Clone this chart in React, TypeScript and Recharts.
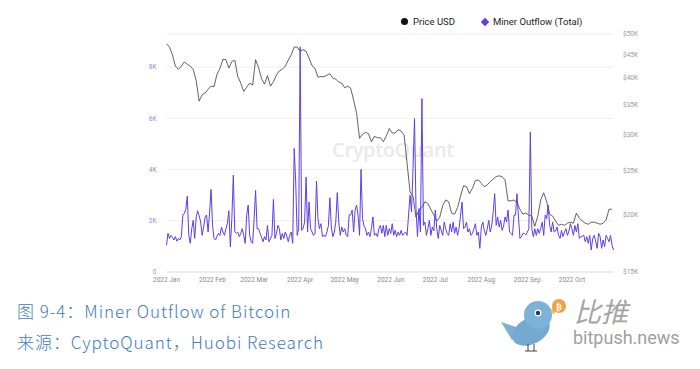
import { LineChart, Line, XAxis, YAxis, CartesianGrid } from "recharts";

// BTC price in $K, one sample every 2 days from 2022-01-01
const priceK = [
  47.6, 46.8, 45.0, 42.5, 41.8, 42.5, 43.4, 42.9, 42.5, 41.8,
  39.5, 35.6, 36.8, 37.1, 37.8, 38.4, 38.3, 40.8, 42.0, 44.0,
  43.9, 42.1, 43.5, 43.8, 40.3, 39.0, 37.4, 38.2, 39.0, 38.6,
  43.9, 42.2, 39.9, 38.8, 40.5, 38.4, 39.3, 40.6, 41.5, 41.8,
  42.5, 43.8, 45.0, 46.8, 46.8, 45.8, 46.2, 45.8, 44.2, 42.6,
  42.0, 40.2, 40.3, 40.3, 40.6, 40.9, 40.0, 39.8, 39.2, 39.0,
  38.1, 38.4, 38.0, 35.8, 33.5, 29.5, 30.1, 30.4, 30.2, 29.0,
  29.8, 29.6, 29.6, 29.0, 29.8, 31.0, 30.3, 30.3, 30.8, 30.6,
  30.0, 26.0, 22.5, 22.0, 19.8, 20.5, 20.8, 21.4, 21.2, 20.6,
  20.0, 19.4, 19.8, 21.0, 21.6, 21.4, 20.2, 20.1, 20.8, 22.0,
  23.2, 23.1, 22.3, 22.9, 23.8, 23.9, 23.5, 23.1, 23.3, 23.7,
  24.0, 24.3, 24.4, 24.3, 23.9, 21.5, 21.5, 21.6, 21.3, 20.6,
  20.1, 20.2, 20.0, 19.9, 18.9, 19.9, 21.6, 22.4, 21.4, 20.1,
  19.9, 19.4, 19.0, 19.1, 19.0, 19.2, 19.3, 19.2, 20.2, 19.7,
  19.4, 19.2, 19.1, 19.3, 19.3, 19.2, 19.1, 19.2, 19.5, 20.6,
  20.6,
];

// miner outflow (BTC), daily from 2022-01-01
const minerOutflow = [
  1050, 1510, 1310, 1430, 1350, 1250, 1380, 1200, 1310, 1250,
  1380, 2220, 2290, 2450, 2960, 1430, 1120, 1690, 2015, 1310,
  2150, 2390, 2200, 1950, 1430, 1755, 2150, 2223, 1560, 2300,
  3224, 1820, 1310, 1250, 1400, 1510, 1430, 1755, 1560, 1430,
  1690, 1900, 2390, 988, 2080, 3783, 1560, 1510, 1560, 1380,
  1500, 1690, 1430, 1118, 2223, 2610, 1430, 1180, 1118, 2080,
  3185, 1690, 1690, 1510, 1350, 1180, 1380, 1250, 1820, 1180,
  1310, 1430, 2834, 1310, 1500, 1820, 1690, 1250, 1510, 1310,
  1560, 1400, 1180, 1430, 1560, 1118, 4823, 3520, 1430, 1690,
  8788, 1625, 1700, 1950, 3706, 1560, 2730, 1690, 1560, 1430,
  1500, 3550, 2080, 1690, 1885, 1380, 1430, 1380, 1560, 1800,
  2900, 1755, 1380, 1560, 1950, 3095, 1950, 1430, 1755, 1560,
  1690, 1430, 1380, 2223, 2223, 2420, 1560, 2420, 2610, 2223,
  1430, 4003, 2080, 1800, 1690, 1430, 1560, 1380, 1690, 2150,
  1430, 1500, 1380, 1690, 1820, 1510, 1820, 1380, 1820, 1430,
  1690, 1500, 1885, 1430, 1625, 1380, 1560, 1430, 1625, 1430,
  1500, 1560, 1430, 2223, 3000, 2350, 4030, 5990, 2480, 1380,
  2480, 1560, 6770, 1820, 1950, 1430, 1690, 2015, 1430, 1755,
  1600, 2420, 1690, 1310, 1820, 1625, 1430, 1950, 1690, 1500,
  1430, 1885, 1560, 1950, 1510, 1755, 1430, 1700, 2223, 2730,
  1690, 1755, 1950, 1560, 1690, 1430, 1500, 1690, 1885, 1430,
  1560, 923, 1755, 1950, 1625, 1430, 1690, 2015, 1560, 1800,
  2350, 3055, 1820, 2150, 1755, 2015, 1625, 1800, 2150, 1950,
  2420, 1560, 1510, 1430, 2223, 2223, 3055, 2150, 1310, 1380,
  1510, 1510, 1450, 1560, 1690, 5470, 1690, 1380, 1690, 1430,
  1690, 1510, 1700, 1950, 1430, 2223, 2080, 2610, 1820, 1560,
  1950, 1560, 1600, 1755, 1430, 1310, 1625, 1380, 1560, 1690,
  1430, 1600, 1885, 1690, 1430, 1820, 1560, 1885, 1310, 1380,
  1400, 1430, 1180, 1380, 1118, 1430, 858, 1310, 1430, 1200,
  923, 1510, 1380, 923, 1250, 988, 1430, 1310, 1180, 1430,
  1053, 858,
];

const monthTicks = [0, 31, 59, 90, 120, 151, 181, 212, 243, 273];
const monthLabels = [
  "2022 Jan", "2022 Feb", "2022 Mar", "2022 Apr", "2022 May",
  "2022 Jun", "2022 Jul", "2022 Aug", "2022 Sep", "2022 Oct",
];
const outflowTicks = [0, 2000, 4000, 6000, 8000];
const priceTicks = [15000, 20000, 25000, 30000, 35000, 40000, 45000, 50000];

const priceData = priceK.map((p, i) => ({ day: i * 2, price: p * 1000 }));
const outflowData = minerOutflow.map((v, i) => ({ day: i, outflow: v }));

function Bird() {
  return (
    <svg width={80} height={64} style={{ position: "absolute", left: 498, top: 293 }}>
      <path d="M3 29 L27 37 L14 47 Z" fill="#7fb0d4" />
      <ellipse cx={33} cy={38} rx={20} ry={13} transform="rotate(-28 33 38)" fill="#74a9d0" />
      <circle cx={40} cy={22} r={14} fill="#7cb2d8" />
      <circle cx={40} cy={20} r={3.4} fill="#fff" />
      <circle cx={40} cy={20} r={2.2} fill="#333" />
      <path d="M53 16 L61 13 L55 22 Z" fill="#f2c232" />
      <circle cx={61} cy={13} r={7} fill="#f0a040" />
      <text x={61} y={16.5} fontSize={9} fontWeight={700} fill="#fff" textAnchor="middle" fontFamily="DejaVu Sans">₿</text>
      <path d="M30 51 L30 58 M36 51 L36 58 M27 58 L33 58 M33 58 L39 58" stroke="#444" strokeWidth={1} fill="none" />
    </svg>
  );
}

export default function App() {
  return (
    <div
      style={{
        position: "absolute",
        left: 0,
        top: 0,
        width: 700,
        height: 369,
        background: "#fff",
        overflow: "hidden",
        fontFamily: "Roboto, sans-serif",
      }}
    >
      <div
        style={{
          position: "absolute",
          left: 332,
          top: 136,
          fontSize: 20,
          fontWeight: 600,
          color: "#e9e9ee",
          fontFamily: "'Open Sans', sans-serif",
          letterSpacing: -0.3,
        }}
      >
        CryptoQuant
      </div>

      <div style={{ position: "absolute", left: 0, top: 0 }}>
        <LineChart
          width={700}
          height={300}
          margin={{ top: 34, right: 46.5, bottom: 8, left: 146.5 }}
        >
          <CartesianGrid yAxisId="left" vertical={false} stroke="#eeeeee" />
          <XAxis
            dataKey="day"
            type="number"
            domain={[0, 301]}
            ticks={monthTicks}
            interval={0}
            tickFormatter={(v: number) => monthLabels[monthTicks.indexOf(v)]}
            height={20}
            tickLine={false}
            tickSize={0}
            tickMargin={5}
            axisLine={{ stroke: "#e4e4e4" }}
            tick={{ fontSize: 6.5, fill: "#8a8a8a" }}
          />
          <YAxis
            yAxisId="left"
            width={20}
            domain={[0, 9290]}
            ticks={outflowTicks}
            interval={0}
            tickFormatter={(v: number) => (v === 0 ? "0" : `${v / 1000}K`)}
            axisLine={false}
            tickLine={false}
            tickSize={0}
            tickMargin={10}
            tick={{ fontSize: 6.5, fill: "#9289e0" }}
          />
          <YAxis
            yAxisId="right"
            orientation="right"
            width={40}
            scale="log"
            domain={[15000, 50000]}
            allowDataOverflow
            ticks={priceTicks}
            interval={0}
            tickFormatter={(v: number) => `$${v / 1000}K`}
            axisLine={false}
            tickLine={false}
            tickSize={0}
            tickMargin={9.5}
            tick={{ fontSize: 6.5, fill: "#9a9a9a" }}
          />
          <Line
            yAxisId="right"
            data={priceData}
            type="linear"
            dataKey="price"
            stroke="#3a3a3a"
            strokeWidth={0.8}
            dot={false}
            isAnimationActive={false}
          />
          <Line
            yAxisId="left"
            data={outflowData}
            type="linear"
            dataKey="outflow"
            stroke="#5b3fe8"
            strokeWidth={1}
            dot={false}
            isAnimationActive={false}
          />
        </LineChart>
      </div>

      {/* legend */}
      <div style={{ position: "absolute", left: 401, top: 16, fontSize: 9.5, color: "#222", display: "flex", alignItems: "center" }}>
        <span style={{ width: 7, height: 7, borderRadius: "50%", background: "#111", display: "inline-block", marginRight: 5 }} />
        <span>Price USD</span>
        <span style={{ width: 6, height: 6, background: "#5b3fe8", display: "inline-block", transform: "rotate(45deg)", marginLeft: 27, marginRight: 5 }} />
        <span>Miner Outflow (Total)</span>
      </div>

      {/* caption */}
      <div style={{ position: "absolute", left: 17, top: 301, fontSize: 17, lineHeight: "20px", letterSpacing: 0.95, color: "#3f7cc2", fontFamily: "'Noto Sans CJK SC', sans-serif", fontWeight: 300, whiteSpace: "nowrap" }}>
        图 9-4：Miner Outflow of Bitcoin
      </div>
      <div style={{ position: "absolute", left: 17, top: 332, fontSize: 17, lineHeight: "20px", letterSpacing: 0.95, color: "#3f7cc2", fontFamily: "'Noto Sans CJK SC', sans-serif", fontWeight: 300, whiteSpace: "nowrap" }}>
        来源：CyptoQuant，Huobi Research
      </div>

      {/* logo */}
      <Bird />
      <div style={{ position: "absolute", left: 574, top: 296, fontSize: 27, lineHeight: "30px", color: "#a4a4a4", fontFamily: "'Noto Sans CJK SC', sans-serif", fontStyle: "italic", whiteSpace: "nowrap" }}>
        比推
      </div>
      <div style={{ position: "absolute", left: 573, top: 327, fontSize: 18, lineHeight: "22px", color: "#a0a0a0", fontFamily: "Roboto, sans-serif", whiteSpace: "nowrap" }}>
        bitpush.news
      </div>
    </div>
  );
}
